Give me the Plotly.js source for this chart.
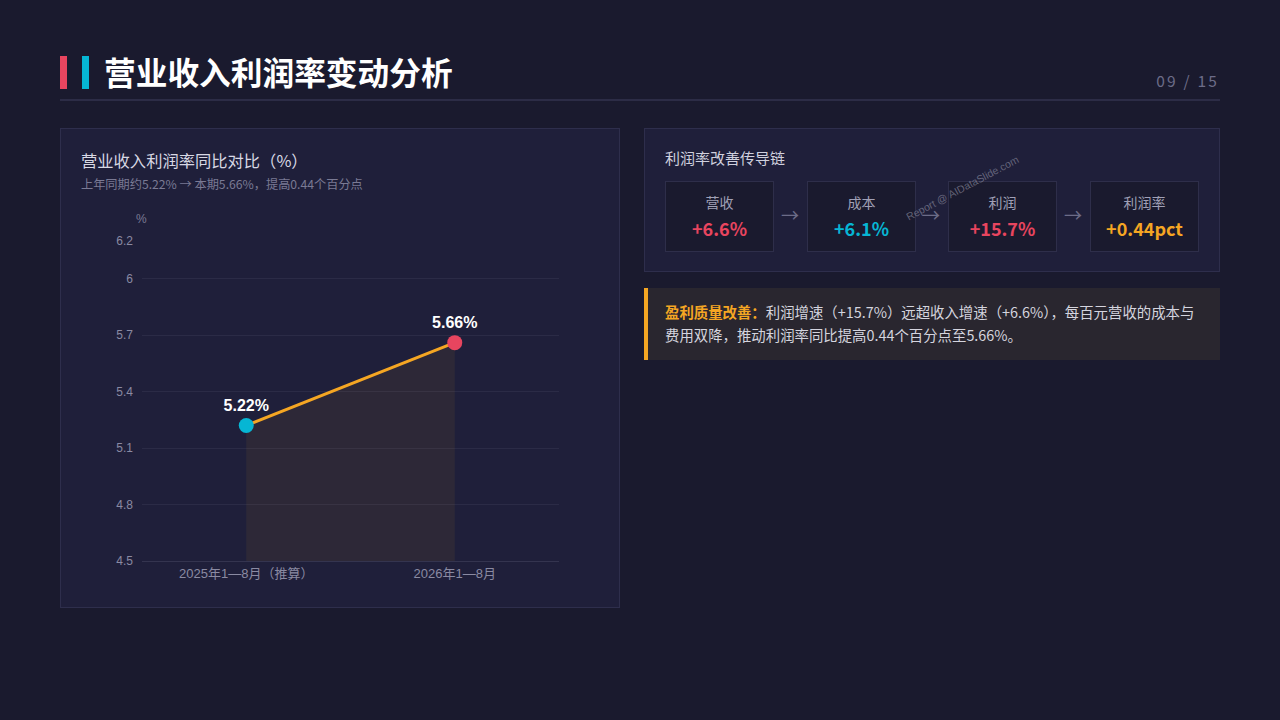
<!DOCTYPE html>
<html><head><meta charset="utf-8">
<script src="https://cdn.plot.ly/plotly-3.0.1.min.js"></script>
<style>
html,body{margin:0;padding:0;width:1280px;height:720px;background:#1a1a2e;overflow:hidden;font-family:"Noto Sans CJK SC","Noto Sans",sans-serif;}
.abs{position:absolute;}
.bar{position:absolute;top:56px;width:7px;height:33px;}
#title{left:104px;top:48px;font-size:31.7px;font-weight:700;color:#ffffff;line-height:46px;white-space:nowrap;}
#pg{right:61px;top:69px;font-size:15.5px;color:#6c6c88;letter-spacing:2.2px;line-height:22px;}
#hline{left:60px;top:99px;width:1160px;height:2px;background:#2c2c46;}
.panel{position:absolute;background:#1f1f3a;border:1px solid #2e2e4c;box-sizing:border-box;}
#ctitle{left:81px;top:148px;font-size:16.3px;color:#d8d8e4;line-height:24px;white-space:nowrap;}
#csub{left:81px;top:175px;font-size:12.2px;color:#7a7a94;line-height:18px;white-space:nowrap;}
#chart{position:absolute;left:60px;top:200px;width:559px;height:407px;}
#rtitle{left:665px;top:146px;font-size:15px;color:#d0d0de;line-height:24px;white-space:nowrap;}
.box{position:absolute;top:181px;width:109px;height:71px;background:#1a1a2e;border:1px solid #2e2e4a;box-sizing:border-box;text-align:center;}
.box .l{position:absolute;left:0;right:0;top:10px;font-size:14px;color:#a0a0b6;line-height:20px;}
.box .v{position:absolute;left:0;right:0;top:34px;font-size:18px;font-weight:700;line-height:24px;}
.arr{position:absolute;top:202px;font-size:18px;color:#6c6c88;line-height:24px;}
#callout{left:644px;top:288px;width:576px;height:72px;background:#29262f;border-left:4px solid #f5a623;box-sizing:border-box;}
#ctext{left:665px;top:301px;width:532px;font-size:14.4px;color:#d4d4de;line-height:22.5px;}
#wm{left:904px;top:212px;font-size:10.5px;color:rgba(160,160,180,0.55);transform:rotate(-28deg);transform-origin:0 0;white-space:nowrap;font-family:"Liberation Sans",sans-serif;}
</style></head>
<body>
<div class="bar" style="left:60px;background:#e8455f;"></div>
<div class="bar" style="left:82px;background:#06b6d4;"></div>
<div id="title" class="abs">营业收入利润率变动分析</div>
<div id="pg" class="abs">09 / 15</div>
<div id="hline" class="abs"></div>

<div class="panel" style="left:60px;top:128px;width:560px;height:480px;"></div>
<div id="ctitle" class="abs">营业收入利润率同比对比（%）</div>
<div id="csub" class="abs">上年同期约5.22% → 本期5.66%，提高0.44个百分点</div>
<div id="chart"></div>

<div class="panel" style="left:644px;top:128px;width:576px;height:144px;"></div>
<div id="rtitle" class="abs">利润率改善传导链</div>
<div id="chain"></div>
<div id="wm" class="abs">Report @ AIDataSlide.com</div>

<div id="callout" class="abs"></div>
<div id="ctext" class="abs"><span style="color:#f5a623;font-weight:700;">盈利质量改善：</span>利润增速（+15.7%）远超收入增速（+6.6%），每百元营收的成本与<br>费用双降，推动利润率同比提高0.44个百分点至5.66%。</div>

<script>
// ---- data ----
const periods = ["2025年1—8月（推算）", "2026年1—8月"];
const marginValues = [5.22, 5.66];
const pointLabels = ["5.22%", "5.66%"];
const pointColors = ["#06b6d4", "#e8455f"];
const yTickVals = [4.5, 4.8, 5.1, 5.4, 5.7, 6.0, 6.2];
const yTickText = ["4.5", "4.8", "5.1", "5.4", "5.7", "6", "6.2"];
const chainLabels = ["营收", "成本", "利润", "利润率"];
const chainValues = ["+6.6%", "+6.1%", "+15.7%", "+0.44pct"];
const chainColors = ["#e8455f", "#06b6d4", "#e8455f", "#f5a623"];

// ---- chain boxes ----
const chainLeft = [665, 807, 948, 1090];
const arrowLeft = [781, 922, 1064];
const chain = document.getElementById('chain');
chainLabels.forEach((lab, i) => {
  const b = document.createElement('div');
  b.className = 'box';
  b.style.left = chainLeft[i] + 'px';
  b.innerHTML = '<div class="l">' + lab + '</div><div class="v" style="color:' + chainColors[i] + '">' + chainValues[i] + '</div>';
  chain.appendChild(b);
  if (i < arrowLeft.length) {
    const a = document.createElement('div');
    a.className = 'arr';
    a.style.left = arrowLeft[i] + 'px';
    a.textContent = '→';
    chain.appendChild(a);
  }
});

// ---- chart ----
const fontFam = '"Liberation Sans", "Noto Sans CJK SC", sans-serif';
const traces = [
  {
    x: periods, y: marginValues, type: 'scatter', mode: 'lines',
    fill: 'tozeroy', fillcolor: 'rgba(245,166,35,0.07)',
    line: {color: '#f5a623', width: 3}, hoverinfo: 'skip', showlegend: false
  },
  {
    x: periods, y: marginValues, type: 'scatter', mode: 'markers+text',
    marker: {color: pointColors, size: 15},
    text: pointLabels, textposition: 'top center',
    textfont: {color: '#ffffff', size: 16, family: fontFam, weight: 700},
    showlegend: false, cliponaxis: false
  }
];
const layout = {
  width: 559, height: 407,
  margin: {l: 82, r: 60, t: 41, b: 46},
  paper_bgcolor: 'rgba(0,0,0,0)', plot_bgcolor: 'rgba(0,0,0,0)',
  font: {family: fontFam, color: '#8a8aa2', size: 12},
  xaxis: {
    type: 'category', range: [-0.5, 1.5], showgrid: false, zeroline: false,
    showline: true, linecolor: '#34344f', linewidth: 1, ticks: '',
    tickfont: {size: 13, color: '#8a8aa2'}, fixedrange: true
  },
  yaxis: {
    range: [4.5, 6.2], tickvals: yTickVals, ticktext: yTickText,
    showgrid: true, gridcolor: '#2b2b46', gridwidth: 1, zeroline: false,
    showline: false, ticks: '', ticklabelstandoff: 8,
    tickfont: {size: 12, color: '#8a8aa2'}, fixedrange: true
  },
  annotations: [{
    text: '%', xref: 'paper', yref: 'paper', x: 0, y: 1, xanchor: 'center', yanchor: 'bottom',
    xshift: -1, yshift: 13, showarrow: false, font: {size: 12, color: '#7a7a94'}
  }]
};
Plotly.newPlot('chart', traces, layout, {displayModeBar: false, staticPlot: true});
</script>
</body></html>
